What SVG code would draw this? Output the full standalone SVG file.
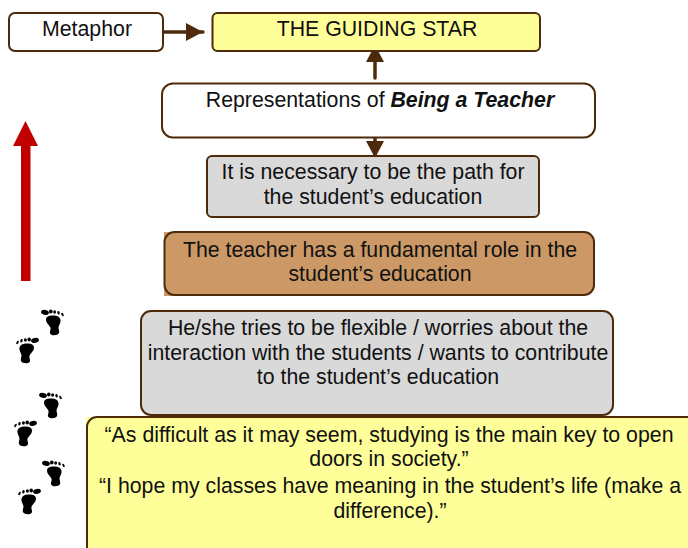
<svg xmlns="http://www.w3.org/2000/svg" width="688" height="548" viewBox="0 0 688 548">
<style>
.b{stroke:#4d2b0a;stroke-width:2}
text{font-family:"Liberation Sans",Arial,sans-serif;font-size:21.3px;fill:#111;text-anchor:middle}
.c{stroke:#4d2b0a;stroke-width:3.500;fill:none;stroke-linecap:round}
</style>
<defs>
<marker id="ah" markerUnits="userSpaceOnUse" markerWidth="18" markerHeight="18" refX="17" refY="9" orient="auto"><path d="M0,0L17,9L0,18Z" fill="#4d2b0a"/></marker>
<g id="foot" fill="#000">
<ellipse cx="4" cy="3.400" rx="4" ry="2.500" transform="rotate(12 4 3.400)"/>
<ellipse cx="9.800" cy="2.400" rx="1.800" ry="2"/>
<ellipse cx="13.600" cy="3" rx="1.500" ry="1.800"/>
<ellipse cx="17.500" cy="3.800" rx="1.200" ry="1.800" transform="rotate(-15 17.500 3.800)"/>
<ellipse cx="21.500" cy="5.400" rx="1" ry="1.900" transform="rotate(-30 21.500 5.400)"/>
<path d="M5,10.500C5,7 9,6 13.500,6.500C18,7 20,9.500 19.500,12.500C19,15.500 17.500,16.500 17.500,19C18,21 18.500,22.500 18,24C17,26.500 11,27 9.500,25C8,23.500 10,21 9.500,19C9,16.500 5,14.500 5,10.500Z"/>
</g>
</defs>
<g id="connectors">
<path class="c" d="M162,32H203" marker-end="url(#ah)"/>
<path class="c" d="M375,78V45" marker-end="url(#ah)"/>
<path class="c" d="M375,135V158" marker-end="url(#ah)"/>
</g>
<g id="up-arrow"><path d="M21,281V146H13L25.500,121L38,146H30.500V281Z" fill="#c00000"/></g>
<g id="footprints">
<use href="#foot" x="41" y="309"/>
<use href="#foot" transform="translate(39 337) scale(-1 1)"/>
<use href="#foot" x="39" y="392"/>
<use href="#foot" transform="translate(37 420) scale(-1 1)"/>
<use href="#foot" x="42" y="460"/>
<use href="#foot" transform="translate(41 488) scale(-1 1)"/>
</g>
<g id="metaphor"><rect class="b" x="9" y="13" width="154" height="38" rx="6" fill="#fff"/><text x="87" y="36">Metaphor</text></g>
<g id="guiding-star"><rect class="b" x="212.500" y="13" width="327.500" height="38" rx="5" fill="#ffff99"/><text x="377" y="35.500">THE GUIDING STAR</text></g>
<g id="representations"><rect class="b" x="162" y="83.500" width="433" height="54" rx="11" fill="#fff"/><text x="380" y="107">Representations of <tspan font-weight="bold" font-style="italic">Being a Teacher</tspan></text></g>
<g id="path"><rect class="b" x="207" y="156" width="332" height="61" rx="5" fill="#d9d9d9"/><text x="373" y="179">It is necessary to be the path for</text><text x="373" y="204">the student’s education</text></g>
<g id="role"><rect x="164" y="232" width="16" height="64" fill="#cc9966"/><rect class="b" x="164.500" y="232" width="429.500" height="63" rx="10" fill="#cc9966"/><text x="380" y="257">The teacher has a fundamental role in the</text><text x="380" y="281">student’s education</text></g>
<g id="flexible"><rect class="b" x="141" y="311" width="472" height="104" rx="10" fill="#d9d9d9"/><text x="378" y="335">He/she tries to be flexible / worries about the</text><text x="378" y="360">interaction with the students / wants to contribute</text><text x="378" y="384">to the student’s education</text></g>
<g id="quotes"><rect x="86" y="417" width="16" height="14" fill="#ffff99"/><rect class="b" x="87" y="417" width="610" height="140" rx="10" fill="#ffff99"/><text x="389" y="441.500">“As difficult as it may seem, studying is the main key to open</text><text x="389" y="466">doors in society.”</text><text x="390" y="492.500">“I hope my classes have meaning in the student’s life (make a</text><text x="390" y="517.500">difference).”</text></g>
</svg>
